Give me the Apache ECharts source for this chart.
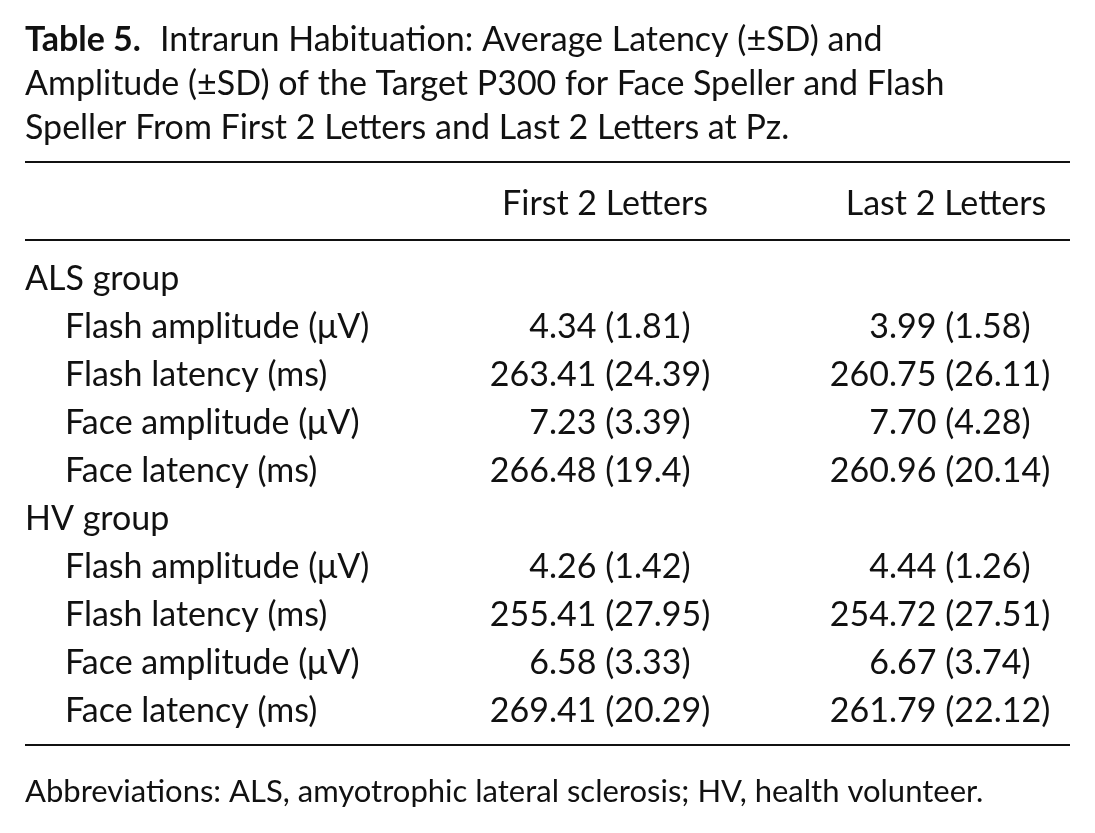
<!DOCTYPE html>
<html>
<head>
<meta charset="utf-8">
<script src="https://cdn.jsdelivr.net/npm/echarts@6/dist/echarts.min.js"></script>
<style>
  html, body { margin: 0; padding: 0; background: #fff; }
  #main { width: 1095px; height: 833px; }
</style>
</head>
<body>
<div id="main"></div>
<script>
var titleLines = [
    'Intrarun Habituation: Average Latency (\u00b1SD) and',
    'Amplitude (\u00b1SD) of the Target P300 for Face Speller and Flash',
    'Speller From First 2 Letters and Last 2 Letters at Pz.'
];
var columns = ['First 2 Letters', 'Last 2 Letters'];
var groups = ['ALS group', 'HV group'];
var rowLabels = ['Flash amplitude (\u03bcV)', 'Flash latency (ms)', 'Face amplitude (\u03bcV)', 'Face latency (ms)'];
var alsFirst = ['4.34 (1.81)', '263.41 (24.39)', '7.23 (3.39)', '266.48 (19.4)'];
var alsLast = ['3.99 (1.58)', '260.75 (26.11)', '7.70 (4.28)', '260.96 (20.14)'];
var hvFirst = ['4.26 (1.42)', '255.41 (27.95)', '6.58 (3.33)', '269.41 (20.29)'];
var hvLast = ['4.44 (1.26)', '254.72 (27.51)', '6.67 (3.74)', '261.79 (22.12)'];
var footnote = 'Abbreviations: ALS, amyotrophic lateral sclerosis; HV, health volunteer.';

var FONT = 'Lato, "Open Sans", sans-serif';
var SIZE = 34;
var els = [];

function txt(x, y, s, align, weight, size) {
    els.push({
        type: 'text', x: x, y: y,
        style: { text: s, font: (weight || 'normal') + ' ' + (size || SIZE) + 'px ' + FONT,
                 fill: '#111', textAlign: align || 'left', textVerticalAlign: 'middle' }
    });
}
function rule(y) {
    els.push({ type: 'line', shape: { x1: 25, y1: y, x2: 1070, y2: y },
               style: { stroke: '#111', lineWidth: 2 } });
}
// decimal-aligned value
function val(dx, y, s) {
    var i = s.indexOf('.');
    txt(dx, y, s.slice(0, i), 'right');
    txt(dx, y, s.slice(i), 'left');
}

// title
txt(25, 40, 'Table 5.', 'left', 'bold');
txt(160, 40, titleLines[0]);
txt(25, 84, titleLines[1]);
txt(25, 128, titleLines[2]);

rule(162);
txt(605, 204, columns[0], 'center');
txt(946, 204, columns[1], 'center');
rule(240);

var groupData = [[alsFirst, alsLast], [hvFirst, hvLast]];
var y = 279, step = 48;
groups.forEach(function (g, gi) {
    txt(25, y, g);
    y += step;
    rowLabels.forEach(function (r, ri) {
        txt(65, y, r);
        val(549, y, groupData[gi][0][ri]);
        val(889, y, groupData[gi][1][ri]);
        y += step;
    });
});
rule(745);
txt(25, 792, footnote, 'left', 'normal', 31);

var myChart = echarts.init(document.getElementById('main'));
myChart.setOption({ backgroundColor: '#fff', graphic: { elements: els } });
</script>
</body>
</html>
